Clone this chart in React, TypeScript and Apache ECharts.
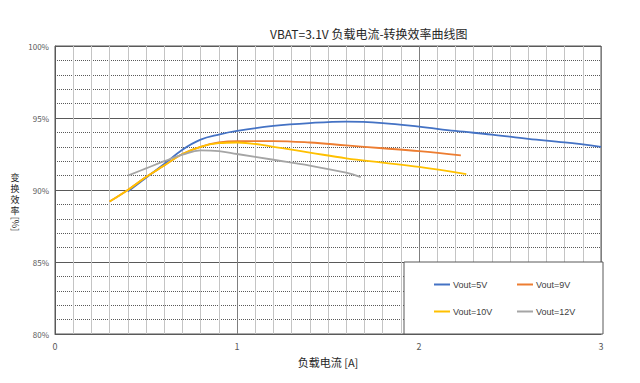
import React, { useEffect, useRef } from "react";
import * as echarts from "echarts";

const titleText = "VBAT=3.1V 负载电流-转换效率曲线图";
const seriesNames = ["Vout=5V", "Vout=9V", "Vout=10V", "Vout=12V"];
const seriesColors = ["#4472C4", "#ED7D31", "#FFC000", "#A5A5A5"];

const vout5: [number, number][] = [
  [0.4, 89.9], [0.5, 90.85], [0.6, 91.8], [0.7, 92.8], [0.8, 93.5], [0.9, 93.85],
  [1.0, 94.1], [1.2, 94.45], [1.4, 94.65], [1.6, 94.75], [1.8, 94.65], [2.0, 94.4],
  [2.2, 94.1], [2.4, 93.85], [2.6, 93.55], [2.8, 93.3], [3.0, 93.0],
];
const vout9: [number, number][] = [
  [0.3, 89.2], [0.4, 90.0], [0.5, 90.9], [0.6, 91.7], [0.7, 92.5], [0.8, 93.0],
  [0.9, 93.3], [1.0, 93.4], [1.2, 93.4], [1.4, 93.3], [1.6, 93.1], [1.8, 92.9],
  [2.0, 92.7], [2.23, 92.4],
];
const vout10: [number, number][] = [
  [0.3, 89.2], [0.4, 90.0], [0.5, 90.9], [0.6, 91.7], [0.7, 92.5], [0.8, 93.0],
  [0.9, 93.25], [1.0, 93.3], [1.2, 93.0], [1.4, 92.6], [1.6, 92.2], [1.8, 91.9],
  [2.0, 91.6], [2.26, 91.1],
];
const vout12: [number, number][] = [
  [0.4, 91.0], [0.5, 91.5], [0.6, 92.0], [0.7, 92.45], [0.8, 92.75], [0.9, 92.7],
  [1.0, 92.5], [1.2, 92.1], [1.4, 91.7], [1.6, 91.2], [1.68, 90.9],
];
const allData = [vout5, vout9, vout10, vout12];

const xName = "负载电流 [A]";
const yNameChars = ["变", "换", "效", "率"];
const yNameUnit = "[%]";

const FONT = "'Noto Sans CJK JP', 'Noto Sans', sans-serif";

export default function App() {
  const ref = useRef<HTMLDivElement>(null);
  useEffect(() => {
    if (!ref.current) return;
    const chart = echarts.init(ref.current, undefined, { renderer: "svg" });
    const legendPos = [
      { left: 434, top: 280 },
      { left: 517, top: 280 },
      { left: 434, top: 307 },
      { left: 517, top: 307 },
    ];
    chart.setOption({
      animation: false,
      backgroundColor: "#ffffff",
      textStyle: { fontFamily: FONT },
      title: {
        text: titleText,
        left: 265,
        top: 22,
        textStyle: { fontSize: 12, fontWeight: "normal", color: "#262626", fontFamily: FONT },
      },
      grid: {
        left: 55,
        right: 39,
        top: 46,
        bottom: 49,
        show: true,
        borderColor: "#595959",
        borderWidth: 1,
        backgroundColor: "transparent",
      },
      xAxis: {
        type: "value",
        min: 0,
        max: 3,
        interval: 1,
        name: xName,
        nameLocation: "middle",
        nameGap: 22,
        nameTextStyle: { fontSize: 11, color: "#262626", fontFamily: FONT },
        axisLine: { show: true, lineStyle: { color: "#595959" } },
        axisTick: { show: false },
        axisLabel: { fontSize: 9, color: "#595959", margin: 8 },
        splitLine: { show: true, lineStyle: { color: "#7f7f7f", width: 1 } },
        minorTick: { show: false, splitNumber: 10 },
        minorSplitLine: { show: true, lineStyle: { color: "#c4c4c4", width: 1 } },
      },
      yAxis: {
        type: "value",
        min: 80,
        max: 100,
        interval: 5,
        axisLine: { show: true, lineStyle: { color: "#595959" } },
        axisTick: { show: false },
        axisLabel: { fontSize: 8, color: "#595959", margin: 6, formatter: "{value}%" },
        splitLine: { show: true, lineStyle: { color: "#595959", width: 1 } },
        minorTick: { show: false, splitNumber: 5 },
        minorSplitLine: { show: true, lineStyle: { color: "#595959", width: 1, type: [1, 1] } },
      },
      legend: seriesNames.map((n, i) => ({
        data: [n],
        left: legendPos[i].left,
        top: legendPos[i].top,
        icon: "rect",
        itemWidth: 16,
        itemHeight: 2,
        itemGap: 3,
        padding: 0,
        selectedMode: false,
        textStyle: { fontSize: 9, color: "#404040", fontFamily: "'Liberation Sans', Arial, sans-serif", padding: [0, 0, 0, -2] },
        z: 6,
      })),
      graphic: [
        {
          type: "rect",
          z: 5,
          shape: { x: 404, y: 262, width: 199, height: 72 },
          style: { fill: "#ffffff", stroke: "#595959", lineWidth: 1 },
        },
        {
          type: "text",
          z: 5,
          x: 15,
          y: 172,
          style: {
            text: yNameChars.join("\n"),
            fontSize: 9,
            lineHeight: 11,
            fill: "#262626",
            fontFamily: FONT,
            align: "center",
            verticalAlign: "top",
          },
        },
        {
          type: "text",
          z: 5,
          x: 15,
          y: 224,
          rotation: -Math.PI / 2,
          style: {
            text: yNameUnit,
            fontSize: 9,
            fill: "#262626",
            fontFamily: FONT,
            align: "center",
            verticalAlign: "middle",
          },
        },
      ],
      series: allData.map((d, i) => ({
        name: seriesNames[i],
        type: "line",
        data: d,
        smooth: 0.4,
        symbol: "none",
        lineStyle: { color: seriesColors[i], width: 1.8 },
        itemStyle: { color: seriesColors[i] },
        z: 2,
      })),
    });
    return () => chart.dispose();
  }, []);
  return <div ref={ref} style={{ width: 640, height: 383, position: "absolute", left: 0, top: 0 }} />;
}
